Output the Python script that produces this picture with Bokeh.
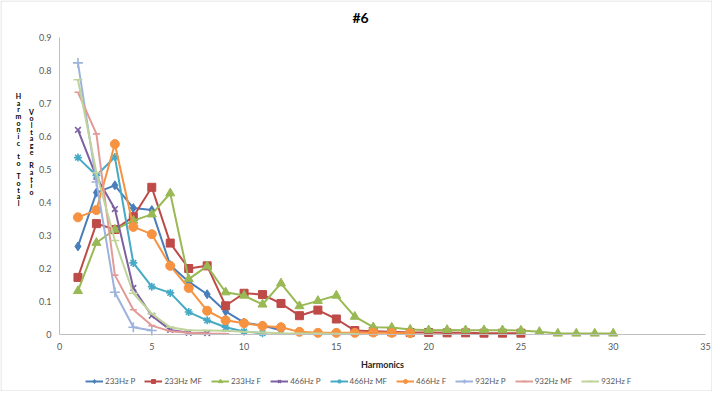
from bokeh.plotting import figure
from bokeh.models import Label, Legend, LegendItem, FixedTicker, Range1d, BoxAnnotation
from bokeh.embed import file_html
from bokeh.resources import INLINE

# ---- data ----
series_names = ["233Hz P", "233Hz MF", "233Hz F", "466Hz P", "466Hz MF",
                "466Hz F", "932Hz P", "932Hz MF", "932Hz F"]

s233_P = [0.267, 0.430, 0.452, 0.383, 0.377, 0.210, 0.160, 0.122, 0.070, 0.036,
          0.027, 0.013]
s233_MF = [0.173, 0.336, 0.318, 0.357, 0.446, 0.277, 0.200, 0.208, 0.087, 0.125,
           0.121, 0.094, 0.057, 0.074, 0.047, 0.012, 0.010, 0.008, 0.006, 0.006,
           0.005, 0.005, 0.004, 0.004, 0.004]
s233_F = [0.132, 0.278, 0.318, 0.345, 0.364, 0.428, 0.168, 0.207, 0.128, 0.118,
          0.091, 0.155, 0.086, 0.102, 0.118, 0.054, 0.022, 0.021, 0.015, 0.013,
          0.014, 0.013, 0.013, 0.013, 0.012, 0.008, 0.003, 0.003, 0.003, 0.003]
s466_P = [0.620, 0.478, 0.380, 0.141, 0.057, 0.014, 0.005, 0.004]
s466_MF = [0.536, 0.482, 0.538, 0.217, 0.145, 0.126, 0.068, 0.043, 0.022, 0.009,
           0.004]
s466_F = [0.355, 0.377, 0.577, 0.326, 0.304, 0.208, 0.141, 0.072, 0.043, 0.034,
          0.026, 0.022, 0.008, 0.005, 0.005, 0.005, 0.006, 0.005, 0.004]
s932_P = [0.823, 0.462, 0.128, 0.022, 0.012]
s932_MF = [0.734, 0.608, 0.180, 0.075, 0.027, 0.010, 0.005, 0.003, 0.002]
s932_F = [0.772, 0.490, 0.285, 0.125, 0.063, 0.022, 0.013, 0.012, 0.011, 0.008,
          0.006, 0.004, 0.003, 0.003, 0.002, 0.002]

x_ticks = [0, 5, 10, 15, 20, 25, 30, 35]
y_ticks = [0, 0.1, 0.2, 0.3, 0.4, 0.5, 0.6, 0.7, 0.8, 0.9]

title_text = "#6"
x_title = "Harmonics"
y_title_col1 = "Harmonic to Total"
y_title_col2 = "Voltage Ratio"

# ---- styles / layout ----
all_series = [s233_P, s233_MF, s233_F, s466_P, s466_MF, s466_F, s932_P, s932_MF, s932_F]
colors = ["#4A7EBB", "#BE4B48", "#98B954", "#7D60A0", "#46AAC5", "#F69240",
          "#9DB2DC", "#E29A98", "#BFD39A"]
markers = ["diamond", "square", "triangle", "x", "asterisk", "circle", "cross", "dash", "dash"]
msizes = [9, 8, 9, 8, 8, 9, 10, 7, 9]

FONT = "Lato"
W, H = 712, 391
# plot area inside the canvas (pixels from top-left)
PL, PR, PT, PB = 59, 705, 37, 334
X0, X1, Y0, Y1 = 0, 35, 0, 0.9
sx = (PR - PL) / (X1 - X0)
sy = (PB - PT) / (Y1 - Y0)

p = figure(width=W, height=H, output_backend="svg", toolbar_location=None,
           x_range=Range1d(X0 - PL / sx, X1 + (W - PR) / sx),
           y_range=Range1d(Y0 - (H - PB) / sy, Y1 + PT / sy),
           min_border=0)
p.background_fill_color = "white"
p.border_fill_color = "white"
p.outline_line_color = None
p.xgrid.visible = False
p.ygrid.visible = False

# chart border
p.add_layout(BoxAnnotation(left=0.5, right=W - 0.5, bottom=0.5, top=H - 0.5,
                           left_units="screen", right_units="screen",
                           bottom_units="screen", top_units="screen",
                           fill_alpha=0, line_color="#8C8C8C", line_width=1,
                           level="underlay"))

items = []
for name, vals, col, mk, ms in zip(series_names, all_series, colors, markers, msizes):
    xs = list(range(1, len(vals) + 1))
    r1 = p.line(xs, vals, line_color=col, line_width=2)
    if mk in ("x", "asterisk", "cross", "dash"):
        r2 = p.scatter(xs, vals, marker=mk, size=ms, line_color=col, line_width=1.6,
                       fill_color=col)
    else:
        r2 = p.scatter(xs, vals, marker=mk, size=ms, line_color=col, fill_color=col)
    items.append(LegendItem(label=name, renderers=[r1, r2]))

# axes drawn at fixed locations inside the canvas
for ax in (p.xaxis[0], p.yaxis[0]):
    ax.axis_line_color = "#BFBFBF"
    ax.axis_line_width = 1
    ax.major_tick_line_color = None
    ax.minor_tick_line_color = None
    ax.major_tick_out = 0
    ax.major_tick_in = 0
    ax.major_label_text_font = FONT
    ax.major_label_text_font_size = "9px"
    ax.major_label_text_color = "#595959"
    ax.fixed_location = 0

p.xaxis.ticker = FixedTicker(ticks=x_ticks)
p.xaxis.bounds = (X0, X1)
p.xaxis.major_label_standoff = 8
p.xaxis.axis_label = x_title
p.xaxis.axis_label_text_font = FONT
p.xaxis.axis_label_text_font_size = "9px"
p.xaxis.axis_label_text_font_style = "bold"
p.xaxis.axis_label_text_color = "#262626"
p.xaxis.axis_label_standoff = 6

p.yaxis.ticker = FixedTicker(ticks=y_ticks)
p.yaxis.bounds = (Y0, Y1)
p.yaxis.major_label_overrides = {0: "0"}
p.yaxis.major_label_standoff = 8

# chart title
p.add_layout(Label(x=360, y=H - 17, x_units="screen", y_units="screen", text=title_text,
                   text_align="center", text_baseline="middle", text_font=FONT,
                   text_font_size="14px", text_font_style="bold", text_color="#000000"))

# stacked y-axis title (one character per line, two columns)
STEP = 6.7
for col_x, first_y, txt in ((18, 95.3, y_title_col1), (31, 111, y_title_col2)):
    for i, ch in enumerate(txt):
        if ch == " ":
            continue
        p.add_layout(Label(x=col_x, y=H - (first_y + i * STEP), x_units="screen",
                           y_units="screen", text=ch, text_align="center",
                           text_baseline="middle", text_font=FONT,
                           text_font_size="7px", text_font_style="bold",
                           text_color="#000000"))

legend = Legend(items=items, orientation="horizontal", location=(85, H - 386),
                glyph_width=18, glyph_height=10, label_height=10, label_standoff=2,
                spacing=9, padding=0, margin=0, label_text_font=FONT,
                label_text_font_size="8px", label_text_color="#595959",
                border_line_color=None, background_fill_alpha=0)
p.add_layout(legend)

open("out.html", "w").write(file_html(p, INLINE))
